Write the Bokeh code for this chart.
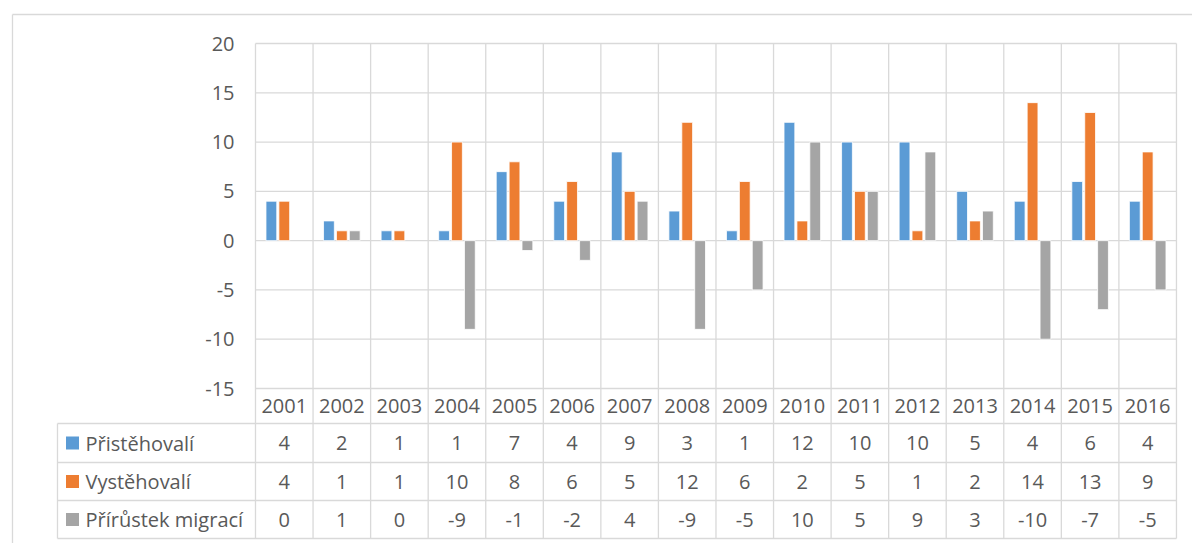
from bokeh.plotting import figure
from bokeh.models import Range1d, ColumnDataSource
from bokeh.embed import file_html
from bokeh.resources import INLINE
from bokeh.core.properties import value

# ---- data ----
years = ["2001", "2002", "2003", "2004", "2005", "2006", "2007", "2008",
         "2009", "2010", "2011", "2012", "2013", "2014", "2015", "2016"]
series_names = ["Přistěhovalí", "Vystěhovalí", "Přírůstek migrací"]
pristehovali = [4, 2, 1, 1, 7, 4, 9, 3, 1, 12, 10, 10, 5, 4, 6, 4]
vystehovali = [4, 1, 1, 10, 8, 6, 5, 12, 6, 2, 5, 1, 2, 14, 13, 9]
prirustek = [0, 1, 0, -9, -1, -2, 4, -9, -5, 10, 5, 9, 3, -10, -7, -5]
y_ticks = [-15, -10, -5, 0, 5, 10, 15, 20]
colors = ["#5B9BD5", "#ED7D31", "#A5A5A5"]

# ---- layout helpers (canvas pixels -> data units) ----
W, H = 1192, 543
PX = 57.56          # px per category
PY = 345.0 / 35.0   # px per value unit
X0 = 255            # canvas x of plot-area left
Y_TOP = 43          # canvas y of value 20


def ux(xc):
    return (xc - X0) / PX


def vy(yc):
    return 20 - (yc - Y_TOP) / PY


grid_c = "#D9D9D9"
text_c = "#595959"
FONT = value("Open Sans")
FS = "20px"

p = figure(width=W, height=H, output_backend="svg", toolbar_location=None,
           x_range=Range1d(ux(0), ux(W)), y_range=Range1d(vy(H), vy(0)),
           x_axis_location=None, y_axis_location=None, min_border=0,
           outline_line_color=None, background_fill_color="white",
           border_fill_color="white")
p.grid.visible = False

n = len(years)
ymin, ymax = y_ticks[0], y_ticks[-1]

# outer chart border (top and left visible)
p.segment(x0=[ux(12), ux(12)], y0=[vy(14), vy(14)], x1=[ux(W), ux(12)], y1=[vy(14), vy(H)],
          line_color=grid_c, line_width=1.3)

# horizontal gridlines
p.segment(x0=[0] * len(y_ticks), x1=[n] * len(y_ticks), y0=y_ticks, y1=y_ticks,
          line_color=grid_c, line_width=1.3)

# table row boundaries
row_year_bottom = vy(423)
row_edges = [vy(423), vy(462), vy(500), vy(538)]
p.segment(x0=[ux(57)] * len(row_edges), x1=[n] * len(row_edges),
          y0=row_edges, y1=row_edges, line_color=grid_c, line_width=1.3)
# vertical lines at category boundaries
p.segment(x0=list(range(n + 1)), x1=list(range(n + 1)),
          y0=[ymax] * (n + 1), y1=[row_edges[-1]] * (n + 1),
          line_color=grid_c, line_width=1.3)
# left edge of label column
p.segment(x0=[ux(57)], x1=[ux(57)], y0=[row_edges[0]], y1=[row_edges[-1]],
          line_color=grid_c, line_width=1.3)

# bars
offsets = [-12.9 / PX, 0.0, 12.9 / PX]
bw = 10.8 / PX
for s, vals in enumerate([pristehovali, vystehovali, prirustek]):
    xs = [i + 0.5 + offsets[s] for i in range(n)]
    src = ColumnDataSource(dict(x=xs, top=[max(v, 0) for v in vals],
                                bottom=[min(v, 0) for v in vals],
                                la=[0.0 if v == 0 else 1.0 for v in vals]))
    p.vbar(x="x", top="top", bottom="bottom", width=bw, source=src,
           fill_color=colors[s], line_color="white", line_width=0.8,
           line_alpha="la")

# y tick labels
p.text(x=[ux(234)] * len(y_ticks), y=y_ticks, text=[str(t) for t in y_ticks],
       text_align="right", text_baseline="middle", text_font=FONT,
       text_font_size=FS, text_color=text_c)

# year row
year_center = (ymin + row_year_bottom) / 2
p.text(x=[i + 0.5 for i in range(n)], y=[year_center] * n, text=years,
       text_align="center", text_baseline="middle", text_font=FONT,
       text_font_size=FS, text_color=text_c)

# data rows
for s, vals in enumerate([pristehovali, vystehovali, prirustek]):
    yc = (row_edges[s] + row_edges[s + 1]) / 2
    p.text(x=[i + 0.5 for i in range(n)], y=[yc] * n, text=[str(v) for v in vals],
           text_align="center", text_baseline="middle", text_font=FONT,
           text_font_size=FS, text_color=text_c)
    p.scatter(x=[ux(72)], y=[yc], marker="square", size=13,
              fill_color=colors[s], line_color=None)
    p.text(x=[ux(85)], y=[yc], text=[series_names[s]], text_align="left",
           text_baseline="middle", text_font=FONT, text_font_size=FS,
           text_color=text_c)

open("out.html", "w").write(file_html(p, INLINE))
